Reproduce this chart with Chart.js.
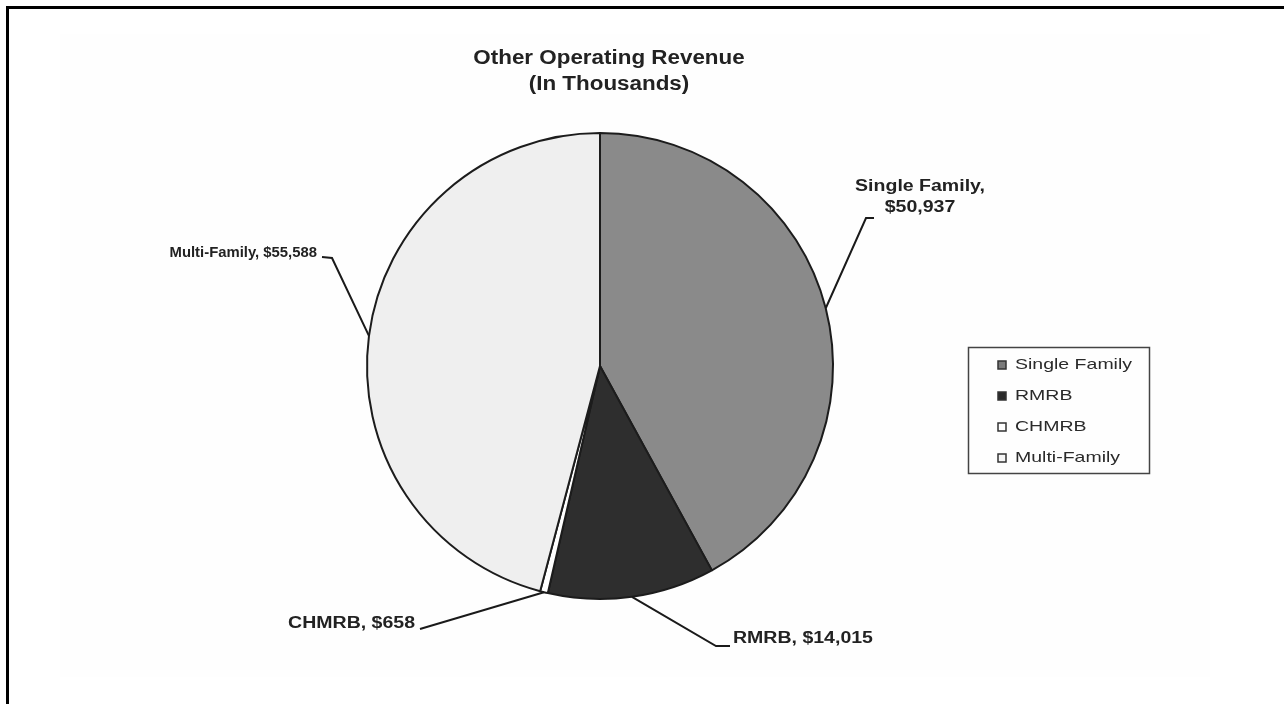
<!DOCTYPE html>
<html>
<head>
<meta charset="utf-8">
<script src="https://cdn.jsdelivr.net/npm/chart.js@4"></script>
<style>
body { margin: 0; background: #fff; overflow: hidden; }
#wrap { width: 1284px; height: 704px; position: relative; }
</style>
</head>
<body>
<div id="wrap"><canvas id="myChart"></canvas></div>
<script>
const categories = ['Single Family', 'RMRB', 'CHMRB', 'Multi-Family'];
const revenue = [50937, 14015, 658, 55588];
const titleLines = ['Other Operating Revenue', '(In Thousands)'];

const sliceColors = ['#8a8a8a', '#2e2e2e', '#ffffff', '#efefef'];
const swatchColors = ['#7a7a7a', '#2a2a2a', '#ffffff', '#f6f6f6'];

// callout layout: elbow of the leader line, where it stops, text anchor, font size, horizontal stretch
const callouts = [
  { elbow: [866, 218], end: [874, 218], text: [920, 187], align: 'center', split: true, size: 16, sx: 1.22 },
  { elbow: [716, 646], end: [730, 646], text: [733, 639], align: 'left', split: false, size: 16, sx: 1.22 },
  { elbow: [420, 629], end: [420, 629], text: [415, 624], align: 'right', split: false, size: 16, sx: 1.22 },
  { elbow: [332, 258], end: [322, 257], text: [317, 253], align: 'right', split: false, size: 15, sx: 0.99 }
];

const ctx = document.getElementById('myChart');

function money(v) {
  return '$' + v.toLocaleString('en-US');
}

function stretchText(c, str, x, y, align, sx) {
  const w = c.measureText(str).width * sx;
  let left = x;
  if (align === 'center') left = x - w / 2;
  if (align === 'right') left = x - w;
  c.save();
  c.translate(left, y);
  c.scale(sx, 1);
  c.textAlign = 'left';
  c.fillText(str, 0, 0);
  c.restore();
}

const decor = {
  id: 'decor',
  beforeDraw(chart) {
    const c = chart.ctx;
    c.save();
    c.fillStyle = '#fefefe';
    c.fillRect(60, 34, 1150, 643);
    c.fillStyle = '#000';
    c.fillRect(6, 6, 1278, 3);
    c.fillRect(6, 6, 3, 698);
    c.restore();
  },
  afterDraw(chart) {
    const c = chart.ctx;
    c.save();
    c.fillStyle = '#222';
    c.textBaseline = 'middle';

    // title
    c.font = 'bold 20px "Liberation Sans", Arial, sans-serif';
    stretchText(c, titleLines[0], 609, 58, 'center', 1.12);
    stretchText(c, titleLines[1], 609, 84, 'center', 1.12);

    // data callouts with leader lines
    const arcs = chart.getDatasetMeta(0).data;
    arcs.forEach((arc, i) => {
      const p = arc.getProps(['x', 'y', 'startAngle', 'endAngle', 'outerRadius'], true);
      const mid = (p.startAngle + p.endAngle) / 2;
      const ex = p.x + Math.cos(mid) * p.outerRadius;
      const ey = p.y + Math.sin(mid) * p.outerRadius;
      const co = callouts[i];
      c.strokeStyle = '#1a1a1a';
      c.lineWidth = 2;
      c.beginPath();
      c.moveTo(ex, ey);
      c.lineTo(co.elbow[0], co.elbow[1]);
      c.lineTo(co.end[0], co.end[1]);
      c.stroke();
      const name = chart.data.labels[i];
      const val = money(chart.data.datasets[0].data[i]);
      c.font = 'bold ' + co.size + 'px "Liberation Sans", Arial, sans-serif';
      c.fillStyle = '#222';
      if (co.split) {
        stretchText(c, name + ',', co.text[0], co.text[1], co.align, co.sx);
        stretchText(c, val, co.text[0], co.text[1] + 21, co.align, co.sx);
      } else {
        stretchText(c, name + ', ' + val, co.text[0], co.text[1], co.align, co.sx);
      }
    });

    // legend box
    c.strokeStyle = '#444';
    c.lineWidth = 1.5;
    c.strokeRect(968.5, 347.5, 181, 126);
    c.font = '15px "Liberation Sans", Arial, sans-serif';
    chart.data.labels.forEach((lab, i) => {
      const y = 365 + i * 31;
      c.fillStyle = swatchColors[i];
      c.fillRect(998, y - 4, 8, 8);
      c.strokeStyle = '#333';
      c.lineWidth = 1.5;
      c.strokeRect(998, y - 4, 8, 8);
      c.fillStyle = '#2a2a2a';
      stretchText(c, lab, 1015, y, 'left', 1.3);
    });
    c.restore();
  }
};

function draw()
{
  new Chart(ctx, {
    type: 'pie',
    data: {
      labels: categories,
      datasets: [{
        data: revenue,
        backgroundColor: sliceColors,
        borderColor: '#1c1c1c',
        borderWidth: 2
      }]
    },
    options: {
      responsive: true,
      maintainAspectRatio: false,
      animation: false,
      layout: {
        padding: { left: 366, right: 450, top: 132, bottom: 104 }
      },
      plugins: {
        legend: { display: false },
        title: { display: false },
        tooltip: { enabled: false }
      }
    },
    plugins: [decor]
  });
}

draw();
</script>
</body>
</html>
